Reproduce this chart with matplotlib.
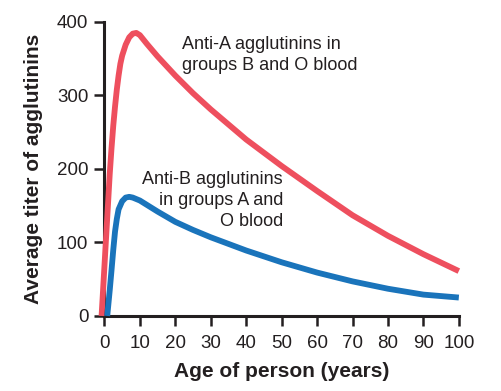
import matplotlib.pyplot as plt

# Ages (years) and titers
age_a = [-0.8, 0, 1, 1.5, 2, 2.5, 3, 3.5, 4, 4.5, 5, 6, 7, 8, 9, 10, 12, 15,
         20, 25, 30, 40, 50, 60, 70, 80, 90, 100]
anti_a = [0, 67, 151, 193, 228, 259, 285, 308, 327, 343, 354, 369, 379, 384,
          385, 382, 370, 353, 327, 303, 281, 240, 204, 170, 137, 109, 84, 61]

age_b = [0.8, 1, 1.5, 2, 2.5, 3, 3.5, 4, 5, 6, 7, 8, 9, 10, 12, 15, 20, 25,
         30, 40, 50, 60, 70, 80, 90, 100]
anti_b = [0, 10, 35, 62, 90, 115, 132, 145, 156, 161, 162, 161, 159, 157,
          151, 142, 128, 117, 107, 89, 73, 59, 47, 37, 29, 25]

xticks = list(range(0, 101, 10))
yticks = [0, 100, 200, 300, 400]

RED = "#EE4F5E"
BLUE = "#1A74BB"
INK = "#231F20"

plt.rcParams["font.family"] = ["Liberation Sans", "DejaVu Sans"]

fig = plt.figure(figsize=(5.02, 3.91), dpi=100)
ax = fig.add_axes([0.208, 0.192, 0.706, 0.752])

ax.plot(age_a, anti_a, color=RED, lw=4.2, solid_capstyle="butt",
        solid_joinstyle="round", clip_on=False, zorder=3)
ax.plot(age_b, anti_b, color=BLUE, lw=4.2, solid_capstyle="butt",
        solid_joinstyle="round", clip_on=False, zorder=3)

ax.set_xlim(0, 100)
ax.set_ylim(0, 400)
ax.set_xticks(xticks)
ax.set_yticks(yticks)

for side in ("top", "right"):
    ax.spines[side].set_visible(False)
for side in ("left", "bottom"):
    ax.spines[side].set_linewidth(2.2)
    ax.spines[side].set_color(INK)
    ax.spines[side].set_zorder(2)

ax.tick_params(direction="out", length=7.5, width=1.8, color=INK,
               labelsize=13.5, labelcolor=INK)
ax.tick_params(axis="x", pad=6.5)
ax.tick_params(axis="y", pad=4)

ax.set_xlabel("Age of person (years)", fontsize=15, fontweight="bold",
              color=INK, labelpad=7)
ax.set_ylabel("Average titer of agglutinins", fontsize=15,
              fontweight="bold", color=INK, labelpad=10)

ax.text(22.0, 381, "Anti-A agglutinins in\ngroups B and O blood",
        ha="left", va="top", fontsize=13, color=INK, linespacing=1.3)
ax.text(50.4, 197, "Anti-B agglutinins\nin groups A and\nO blood",
        ha="right", va="top", fontsize=13, color=INK, linespacing=1.3)

fig.savefig("out.png", dpi=100, facecolor="white")
